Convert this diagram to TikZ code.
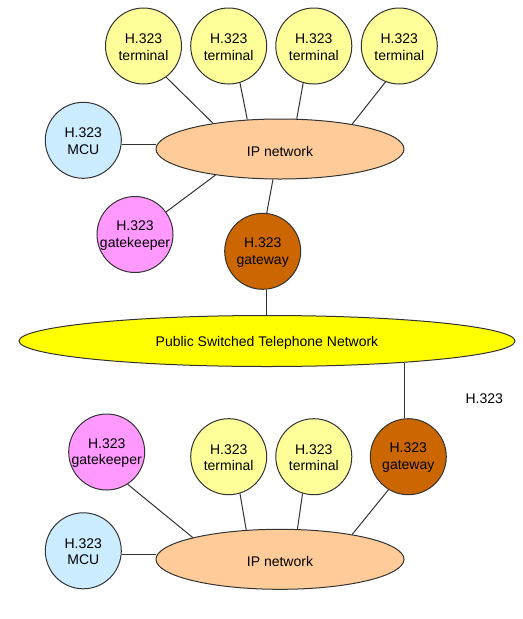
\documentclass[tikz,border=0pt]{standalone}
\usepackage{fontspec}
\setmainfont{Liberation Sans}
\usetikzlibrary{shapes.geometric}
\definecolor{termc}{HTML}{FFFF99}
\definecolor{mcuc}{HTML}{CCECFF}
\definecolor{gkc}{HTML}{FF99FF}
\definecolor{gwc}{HTML}{CC6600}
\definecolor{ipc}{HTML}{FFCC99}
\definecolor{pstnc}{HTML}{FFFF00}
\definecolor{edgec}{HTML}{333333}
\tikzset{
  dev/.style={circle, draw=edgec, line width=0.75pt, minimum size=57pt, inner sep=0pt},
  devtext/.style={align=center, font=\fontsize{10.5}{12.5}\selectfont, inner sep=0pt, yshift=-0.75pt},
  nettext/.style={font=\fontsize{10.5}{12.5}\selectfont, inner sep=0pt, yshift=-1.5pt},
  term/.style={dev, fill=termc},
  mcu/.style={dev, fill=mcuc},
  gk/.style={dev, fill=gkc},
  gw/.style={dev, fill=gwc},
  ipnet/.style={ellipse, draw=edgec, line width=0.75pt, fill=ipc, minimum width=186pt, minimum height=45pt, inner sep=0pt},
  pstnnet/.style={ellipse, draw=edgec, line width=0.75pt, fill=pstnc, minimum width=372pt, minimum height=38.25pt, inner sep=0pt},
  conn/.style={draw=edgec, line width=0.75pt},
  plain/.style={font=\fontsize{10.5}{12.5}\selectfont, inner sep=0pt}
}
\begin{document}
\begin{tikzpicture}[x=0.75pt, y=-0.75pt]
\useasboundingbox (0,0) rectangle (523,619);
% top network
\node[ipnet, label={[nettext]center:IP network}] (ip1) at (280,149) {};
\node[term, label={[devtext]center:H.323\\terminal}] (t1) at (143.5,46) {};
\node[term, label={[devtext]center:H.323\\terminal}] (t2) at (228.7,46) {};
\node[term, label={[devtext]center:H.323\\terminal}] (t3) at (313.8,46) {};
\node[term, label={[devtext]center:H.323\\terminal}] (t4) at (399.3,46) {};
\node[mcu, label={[devtext]center:H.323\\MCU}] (mcu1) at (83.3,140.3) {};
\node[gk, label={[devtext]center:H.323\\gatekeeper}] (gk1) at (135,234.5) {};
\node[gw, label={[devtext]center:H.323\\gateway}] (gw1) at (262.7,251.3) {};
% PSTN
\node[pstnnet, label={[nettext]center:Public Switched Telephone Network}] (pstn) at (267,341) {};
\node[plain] (lbl) at (484.3,398.3) {H.323};
% bottom network
\node[ipnet, label={[nettext]center:IP network}] (ip2) at (280,559.3) {};
\node[gk, label={[devtext]center:H.323\\gatekeeper}] (gk2) at (106.7,452) {};
\node[term, label={[devtext]center:H.323\\terminal}] (t5) at (228.7,456.7) {};
\node[term, label={[devtext]center:H.323\\terminal}] (t6) at (313.8,456.7) {};
\node[gw, label={[devtext]center:H.323\\gateway}] (gw2) at (408.3,456.7) {};
\node[mcu, label={[devtext]center:H.323\\MCU}] (mcu2) at (83.3,550.8) {};
% top connectors
\draw[conn] (t1.-54) -- (ip1.159);
\draw[conn] (t2.-73) -- (ip1.138);
\draw[conn] (t3.-106) -- (ip1.61);
\draw[conn] (t4.-111) -- (ip1.19);
\draw[conn] (mcu1.-7) -- (mcu1.-7 -| ip1.west);
\draw[conn] (gk1.36) -- (ip1.-158);
\draw[conn] (gw1.84) -- (ip1.-103.5);
\draw[conn] (gw1.-84) -- (gw1.-84 |- pstn.north);
% bottom connectors
\draw[conn] (gw2.96) -- (gw2.96 |- pstn.-9);
\draw[conn] (gk2.-57) -- (ip2.166.5);
\draw[conn] (t5.-73) -- (ip2.139);
\draw[conn] (t6.-107) -- (ip2.60);
\draw[conn] (gw2.-121) -- (ip2.19.4);
\draw[conn] (mcu2.-6) -- (mcu2.-6 -| ip2.west);
\end{tikzpicture}
\end{document}
